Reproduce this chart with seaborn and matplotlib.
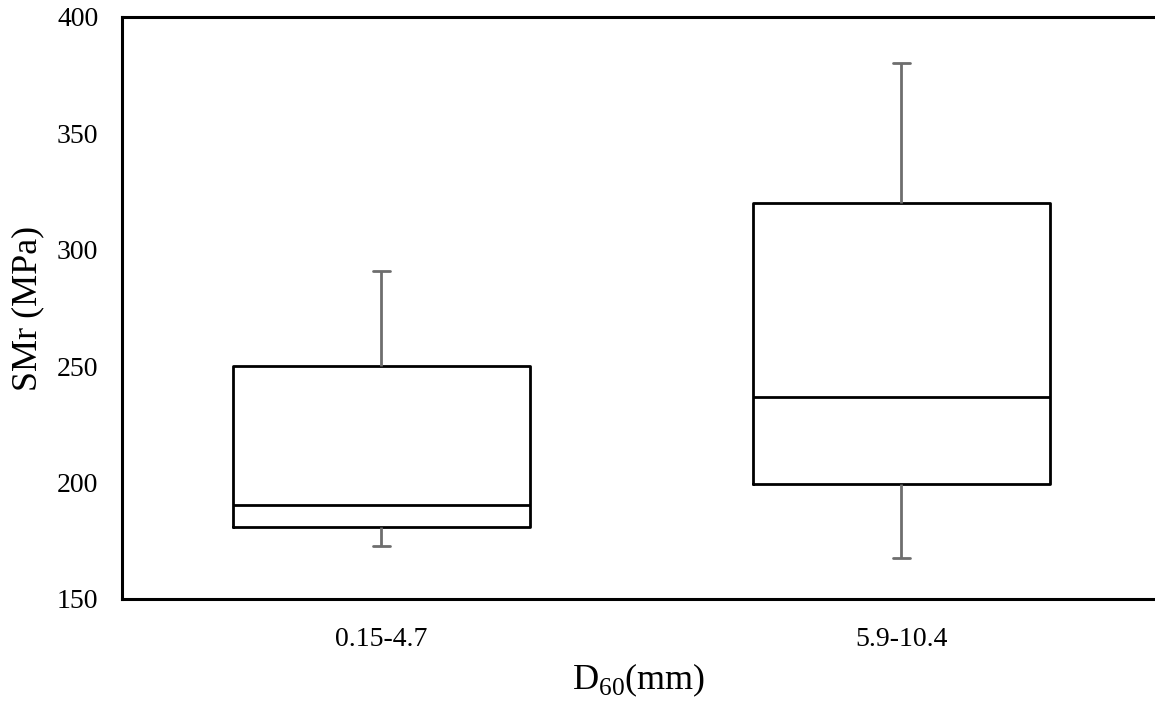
import numpy as np
import pandas as pd
import seaborn as sns
import matplotlib
matplotlib.use("Agg")
import matplotlib.pyplot as plt

# Categories and five-number summaries (MPa)
categories = ["0.15-4.7", "5.9-10.4"]
whisker_low = [172.8, 167.6]
q1_values = [180.9, 199.4]
median_values = [190.4, 236.8]
q3_values = [250.1, 320.1]
whisker_high = [290.9, 380.2]
y_ticks = [150, 200, 250, 300, 350, 400]

# Build 5-point samples whose quartiles equal the summaries
rows = []
for cat, lo, q1, med, q3, hi in zip(categories, whisker_low, q1_values,
                                    median_values, q3_values, whisker_high):
    for v in (lo, q1, med, q3, hi):
        rows.append({"D60": cat, "SMr": v})
df = pd.DataFrame(rows)

sns.set_theme(style="white")
plt.rcParams["font.family"] = ["Liberation Serif", "DejaVu Serif"]
plt.rcParams["mathtext.fontset"] = "custom"
plt.rcParams["mathtext.rm"] = "Liberation Serif"

fig = plt.figure(figsize=(11.55, 7.05), dpi=100)
ax = fig.add_axes([122 / 1155, 106 / 705, 1 - 122 / 1155, 582 / 705])

sns.boxplot(
    data=df, x="D60", y="SMr", order=categories, ax=ax,
    whis=np.inf, width=0.572, fill=False, color="black",
    linewidth=2.0,
    boxprops=dict(color="black", linewidth=2.0),
    medianprops=dict(color="black", linewidth=2.0),
    whiskerprops=dict(color="#6e6e6e", linewidth=2.0),
    capprops=dict(color="#6e6e6e", linewidth=2.0),
    capwidths=0.034,
    showfliers=False,
)

ax.set_ylim(150, 400)
ax.set_xlim(-0.499, 1.4875)
ax.set_yticks(y_ticks)
ax.set_yticklabels([str(t) for t in y_ticks])
ax.tick_params(axis="both", length=0, labelsize=20, colors="black")
ax.tick_params(axis="x", pad=20)
ax.tick_params(axis="y", pad=17)

for side in ("left", "bottom", "top"):
    ax.spines[side].set_visible(True)
    ax.spines[side].set_color("black")
    ax.spines[side].set_linewidth(2.2)
ax.spines["right"].set_visible(False)

ax.set_xlabel(r"D$_{\mathregular{60}}$(mm)", fontsize=26, labelpad=7, color="black")
ax.set_ylabel("SMr (MPa)", fontsize=26, labelpad=9, color="black")

fig.savefig("out.png", dpi=100, facecolor="white")
